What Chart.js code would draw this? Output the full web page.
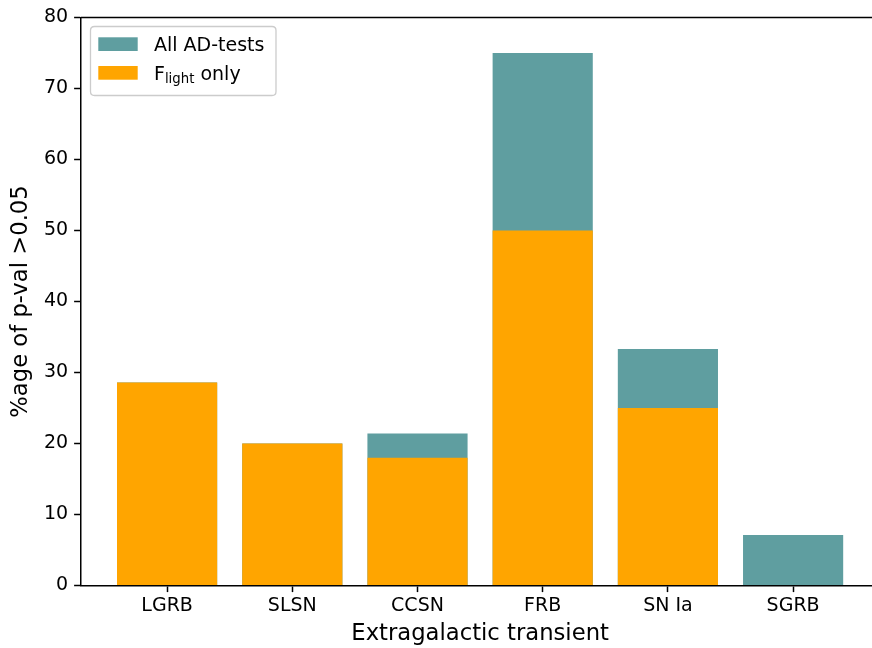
<!DOCTYPE html>
<html>
<head>
<meta charset="utf-8">
<script src="https://cdn.jsdelivr.net/npm/chart.js@4"></script>
<style>
  html, body { margin: 0; padding: 0; background: #ffffff; overflow: hidden; }
  #wrap { width: 890px; height: 648px; position: relative; }
</style>
</head>
<body>
<div id="wrap"><canvas id="c" width="890" height="648"></canvas></div>
<script>
// Transient classes on the x axis
const categories = ['LGRB', 'SLSN', 'CCSN', 'FRB', 'SN Ia', 'SGRB'];
// Percentage of p-values above 0.05, all Anderson-Darling tests
const allTests = [28.6, 20.0, 21.4, 75.0, 33.3, 7.1];
// Percentage of p-values above 0.05, light-fraction test only
const flightOnly = [28.6, 20.0, 18.0, 50.0, 25.0, 0.0];
// Y axis ticks
const yTicks = [0, 10, 20, 30, 40, 50, 60, 70, 80];

const TEAL = '#5f9ea0';
const ORANGE = '#ffa500';
const FONT = "'DejaVu Sans', sans-serif";

const toPoints = arr => arr.map((v, i) => ({ x: i, y: v }));

// Legend with a subscripted label, drawn matplotlib-style
const legendPlugin = {
  id: 'mplLegend',
  afterDraw(chart) {
    const ctx = chart.ctx;
    ctx.save();
    const bx = 90.5, by = 26.5, bw = 185.5, bh = 69, r = 4;
    ctx.beginPath();
    ctx.moveTo(bx + r, by);
    ctx.lineTo(bx + bw - r, by);
    ctx.quadraticCurveTo(bx + bw, by, bx + bw, by + r);
    ctx.lineTo(bx + bw, by + bh - r);
    ctx.quadraticCurveTo(bx + bw, by + bh, bx + bw - r, by + bh);
    ctx.lineTo(bx + r, by + bh);
    ctx.quadraticCurveTo(bx, by + bh, bx, by + bh - r);
    ctx.lineTo(bx, by + r);
    ctx.quadraticCurveTo(bx, by, bx + r, by);
    ctx.closePath();
    ctx.fillStyle = 'rgba(255,255,255,0.8)';
    ctx.fill();
    ctx.strokeStyle = '#cccccc';
    ctx.lineWidth = 1.3;
    ctx.stroke();

    const ds = chart.data.datasets;
    // row 1
    ctx.fillStyle = ds[0].backgroundColor;
    ctx.fillRect(98.3, 37.3, 39.4, 13.7);
    ctx.fillStyle = '#000';
    ctx.textBaseline = 'alphabetic';
    ctx.textAlign = 'left';
    ctx.font = '19px ' + FONT;
    ctx.fillText(ds[0].label, 154, 50.5);
    // row 2
    ctx.fillStyle = ds[1].backgroundColor;
    ctx.fillRect(98.3, 66, 39.4, 13.7);
    ctx.fillStyle = '#000';
    ctx.font = '19px ' + FONT;
    let x = 154;
    ctx.fillText('F', x, 79.5);
    x += ctx.measureText('F').width;
    ctx.font = '13.3px ' + FONT;
    ctx.fillText('light', x, 83);
    x += ctx.measureText('light').width;
    ctx.font = '19px ' + FONT;
    ctx.fillText(' only', x, 79.5);
    ctx.restore();
  }
};

// Top and right spines (the right one falls outside the visible page)
const spinePlugin = {
  id: 'topSpine',
  afterDraw(chart) {
    const a = chart.chartArea, ctx = chart.ctx;
    ctx.save();
    ctx.strokeStyle = '#000';
    ctx.lineWidth = 1.5;
    ctx.beginPath();
    ctx.moveTo(a.left, a.top);
    ctx.lineTo(a.right, a.top);
    ctx.lineTo(a.right, a.bottom);
    ctx.stroke();
    ctx.restore();
  }
};

new Chart(document.getElementById('c'), {
  type: 'bar',
  data: {
    datasets: [
      {
        label: 'All AD-tests',
        data: toPoints(allTests),
        backgroundColor: TEAL,
        grouped: false,
        order: 2,
        barPercentage: 0.8,
        categoryPercentage: 1.0
      },
      {
        label: 'F light only',
        data: toPoints(flightOnly),
        backgroundColor: ORANGE,
        grouped: false,
        order: 1,
        barPercentage: 0.8,
        categoryPercentage: 1.0
      }
    ]
  },
  options: {
    responsive: false,
    animation: false,
    events: [],
    layout: { padding: { top: 17.5, right: 10.5, left: 0, bottom: 0 } },
    plugins: { legend: { display: false }, tooltip: { enabled: false } },
    scales: {
      x: {
        type: 'linear',
        min: -0.69,
        max: 5.69,
        offset: false,
        afterBuildTicks: s => { s.ticks = categories.map((_, i) => ({ value: i })); },
        afterFit: s => { s.height = 62.5; },
        grid: { offset: false, drawOnChartArea: false, drawTicks: true, tickLength: 6.6, tickWidth: 1.5, color: '#000' },
        border: { display: true, color: '#000', width: 1.5 },
        ticks: {
          color: '#000',
          font: { family: FONT, size: 19 },
          padding: 3,
          maxRotation: 0,
          autoSkip: false,
          callback: v => categories[v] ?? ''
        },
        title: {
          display: true,
          text: 'Extragalactic transient',
          color: '#000',
          font: { family: FONT, size: 22.7 },
          padding: { top: 7, bottom: 0 }
        }
      },
      y: {
        min: 0,
        max: 80,
        afterBuildTicks: s => { s.ticks = yTicks.map(v => ({ value: v })); },
        afterFit: s => { s.width = 80.7; },
        grid: { drawOnChartArea: false, drawTicks: true, tickLength: 6.6, tickWidth: 1.5, color: '#000' },
        border: { display: true, color: '#000', width: 1.5 },
        ticks: {
          color: '#000',
          font: { family: FONT, size: 19 },
          padding: 6
        },
        title: {
          display: true,
          text: '%age of p-val >0.05',
          color: '#000',
          font: { family: FONT, size: 22.7 },
          padding: { top: 7, bottom: 0 }
        }
      }
    }
  },
  plugins: [legendPlugin, spinePlugin]
});
</script>
</body>
</html>
